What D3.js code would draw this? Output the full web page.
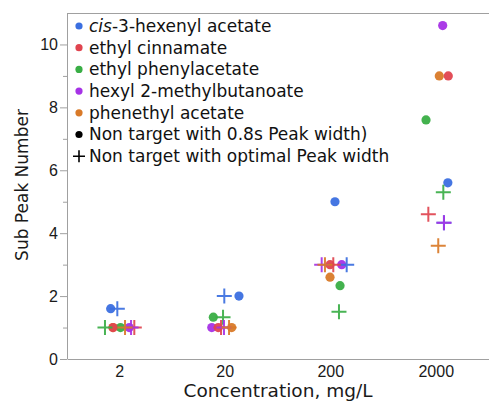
<!DOCTYPE html>
<html>
<head>
<meta charset="utf-8">
<script src="https://cdn.jsdelivr.net/npm/d3@7"></script>
<style>
	body { margin: 0; background: #fff; }
	svg { display: block; font-family: "DejaVu Sans", sans-serif; }
	.axis path, .axis line { stroke: #a0a0a0; }
	.axis text { fill: #1a1a1a; font-size: 16px; }
</style>
</head>
<body>
<svg id="chart" width="489" height="407"></svg>
<script>
const categories = ["2", "20", "200", "2000"];
const seriesNames = ["cis-3-hexenyl acetate", "ethyl cinnamate", "ethyl phenylacetate", "hexyl 2-methylbutanoate", "phenethyl acetate"];
const seriesColors = ["#3b6fe0", "#e0444f", "#39ae45", "#a632e6", "#d97a28"];

// sub peak numbers, 0.8 s peak width (dots), one value per concentration
const dotValues = [
	[1.6, 2, 5, 5.6],
	[1, 1, 3, 9],
	[1, 1.33, 2.33, 7.6],
	[1, 1, 3, 10.6],
	[1, 1, 2.6, 9],
];
// horizontal jitter of the dots, in category units
const dotJitter = [
	[-0.086, 0.13, 0.04, 0.11],
	[-0.064, -0.066, -0.007, 0.114],
	[0.007, -0.113, 0.088, -0.097],
	[0.09, -0.128, 0.104, 0.061],
	[-0.064, 0.061, -0.007, 0.029],
];

// sub peak numbers, optimal peak width (plus markers)
const plusValues = [
	[1.6, 2, 3, 4.33],
	[1, 1, 3, 4.6],
	[1, 1.33, 1.5, 5.3],
	[1, 1, 3, 4.33],
	[1, 1, 3, 3.6],
];
const plusJitter = [
	[-0.023, -0.009, 0.151, 0.073],
	[0.138, -0.04, 0.024, -0.075],
	[-0.14, -0.021, 0.078, 0.067],
	[0.107, -0.012, -0.086, 0.073],
	[0.05, 0.036, -0.055, 0.019],
];

const yTicks = [0, 2, 4, 6, 8, 10];

const svg = d3.select("#chart");
const width = 489;
const height = 407;
const margin = { top: 13, right: 0, bottom: 48, left: 67 };
const innerWidth = width - margin.left - margin.right;
const innerHeight = height - margin.top - margin.bottom;

const g = svg.append("g").attr("transform", `translate(${margin.left}, ${margin.top})`);

const xCat = d3.scaleBand().domain(categories).range([0, innerWidth]);
const x = d3.scaleLinear().domain([-0.5, categories.length - 0.5]).range([0, innerWidth]);
const y = d3.scaleLinear().domain([0, 11]).range([innerHeight, 0]);

// frame top line
g.append("line")
	.attr("x1", 0).attr("x2", innerWidth)
	.attr("y1", 0.5).attr("y2", 0.5)
	.attr("stroke", "#a0a0a0");

// y axis with minor ticks
g.append("g")
	.attr("class", "axis")
	.call(d3.axisLeft(y).tickValues(d3.range(1, 11, 2)).tickSize(4).tickFormat(""))
	.select(".domain").remove();

g.append("g")
	.attr("class", "axis")
	.call(d3.axisLeft(y).tickValues(yTicks).tickSize(7).tickSizeOuter(0).tickPadding(2))
	.select(".domain").attr("d", `M0.5,0V${innerHeight}`);

// x axis
const xAxis = g.append("g")
	.attr("class", "axis")
	.attr("transform", `translate(0, ${innerHeight})`)
	.call(d3.axisBottom(xCat).tickSize(0).tickSizeOuter(0).tickPadding(7));
xAxis.selectAll("text").attr("dy", "0.71em");

g.append("text")
	.attr("x", innerWidth / 2)
	.attr("y", innerHeight + 38)
	.attr("text-anchor", "middle")
	.attr("fill", "#1a1a1a")
	.style("font-size", "18.5px")
	.text("Concentration, mg/L");

g.append("text")
	.attr("transform", "rotate(-90)")
	.attr("x", -(185 - margin.top))
	.attr("y", -margin.left + 28)
	.attr("text-anchor", "middle")
	.attr("fill", "#1a1a1a")
	.style("font-size", "17px")
	.text("Sub Peak Number");

// points
const dots = [];
const pluses = [];
seriesNames.forEach((name, si) => {
	categories.forEach((c, ci) => {
		dots.push({ si, x: ci + dotJitter[si][ci], v: dotValues[si][ci] });
		pluses.push({ si, x: ci + plusJitter[si][ci], v: plusValues[si][ci] });
	});
});
dots.reverse();

g.selectAll(".dot")
	.data(dots)
	.join("circle")
	.attr("class", "dot")
	.attr("cx", (d) => x(d.x))
	.attr("cy", (d) => y(d.v))
	.attr("r", 4.6)
	.attr("fill", (d) => seriesColors[d.si])
	.attr("opacity", 0.95);

const plusSize = 7.5;
g.selectAll(".plus")
	.data(pluses)
	.join("path")
	.attr("class", "plus")
	.attr("d", (d) => {
		const px = x(d.x);
		const py = y(d.v);
		return `M${px - plusSize},${py}H${px + plusSize}M${px},${py - plusSize}V${py + plusSize}`;
	})
	.attr("stroke", (d) => seriesColors[d.si])
	.attr("stroke-width", 2)
	.attr("fill", "none")
	.attr("opacity", 0.92);

// legend
const legendItems = seriesNames.map((name, i) => ({ name, color: seriesColors[i], kind: "dot" }))
	.concat([
		{ name: "Non target with 0.8s Peak width)", color: "#000", kind: "dot" },
		{ name: "Non target with optimal Peak width", color: "#000", kind: "plus" },
	]);

const legend = g.append("g").attr("transform", "translate(12, 13)");
const rowH = 21.7;
const rows = legend.selectAll(".legend-row")
	.data(legendItems)
	.join("g")
	.attr("class", "legend-row")
	.attr("transform", (d, i) => `translate(0, ${i * rowH})`);

rows.filter((d) => d.kind === "dot")
	.append("circle")
	.attr("r", 3.6)
	.attr("fill", (d) => d.color);

rows.filter((d) => d.kind === "plus")
	.append("path")
	.attr("d", "M-6,0H6M0,-6V6")
	.attr("stroke", "#000")
	.attr("stroke-width", 1.6);

const labels = rows.append("text")
	.attr("x", 10)
	.attr("dy", "0.35em")
	.attr("fill", "#111")
	.style("font-size", "17px");

labels.each(function (d) {
	const t = d3.select(this);
	if (d.name.startsWith("cis-")) {
		t.append("tspan").style("font-style", "italic").text("cis");
		t.append("tspan").text(d.name.slice(3));
	} else {
		t.text(d.name);
	}
});
</script>
</body>
</html>
